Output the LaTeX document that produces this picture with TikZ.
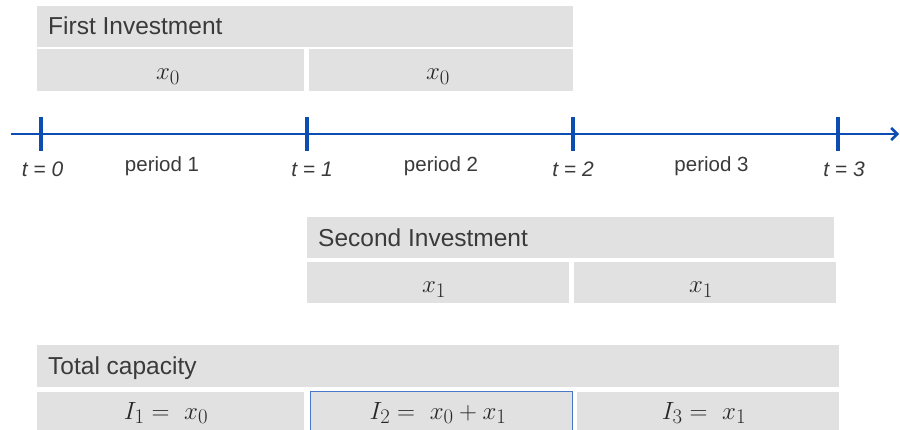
\documentclass[tikz,border=0pt]{standalone}
\usepackage{fontspec}
\setmainfont{Liberation Sans}
\usetikzlibrary{arrows.meta}
\definecolor{cellgray}{HTML}{E1E1E1}
\definecolor{txtgray}{HTML}{3A3A3A}
\definecolor{mathgray}{HTML}{262626}
\definecolor{axisblue}{HTML}{0B4DB0}
\definecolor{edgeblue}{HTML}{4A78C8}
\tikzset{
  cell/.style={fill=cellgray, draw=none, inner sep=0pt, outer sep=0pt, text=mathgray,
     font=\fontsize{28}{30}\selectfont},
  mtext/.style={anchor=base, inner sep=0pt, text=mathgray, font=\fontsize{28}{30}\selectfont},
  hdr/.style={anchor=base west, inner sep=0pt, text=txtgray, font=\fontsize{24.5}{28}\selectfont},
  tlab/.style={anchor=base, inner sep=0pt, text=txtgray, font=\fontsize{21}{24}\selectfont\itshape},
  plab/.style={anchor=base, inner sep=0pt, text=txtgray, font=\fontsize{20.5}{24}\selectfont},
  tickmark/.style={draw=axisblue, line width=3.6pt},
  axisline/.style={draw=axisblue, line width=2.7pt, -{Straight Barb[length=6pt,width=12pt,line width=2.5pt]}}
}
\begin{document}
\begin{tikzpicture}[x=1pt,y=-1pt]
\useasboundingbox (0,0) rectangle (900,430);
\clip (0,0) rectangle (900,430);
% first investment
\path[fill=cellgray] (37,6) rectangle (573,46.7);
\node[hdr] (h1) at (48,35) {First Investment};
\node[cell, minimum width=267.3pt, minimum height=41.4pt] (a1) at (170.65,70) {};
\node[cell, minimum width=264pt, minimum height=41.4pt] (a2) at (441,70) {};
\node[mtext] (a1t) at (168,80) {$x_0$};
\node[mtext] (a2t) at (438,80) {$x_0$};
% axis
\coordinate (axL) at (10.7,134);
\coordinate (axR) at (899,134);
\draw[axisline] (axL) -- (axR);
\foreach \n/\x in {0/40.7,1/306.7,2/572.7,3/837.7}{
  \coordinate (tt\n) at (\x,117);
  \coordinate (tb\n) at (\x,150.7);
  \draw[tickmark] (tt\n) -- (tb\n);
}
\node[tlab] (l0) at (42.5,177) {t = 0};
\node[tlab] (l1) at (312,177) {t = 1};
\node[tlab] (l2) at (573,177) {t = 2};
\node[tlab] (l3) at (844,177) {t = 3};
\node[plab] (p1) at (162,172) {period 1};
\node[plab] (p2) at (441,172) {period 2};
\node[plab] (p3) at (711.5,172) {period 3};
% second investment
\path[fill=cellgray] (307.3,217.3) rectangle (834,257.7);
\node[hdr] (h2) at (318,246.7) {Second Investment};
\node[cell, minimum width=261.4pt, minimum height=41.3pt] (b1) at (438,282.65) {};
\node[cell, minimum width=262pt, minimum height=41.3pt] (b2) at (705,282.65) {};
\node[mtext] (b1t) at (434,293) {$x_1$};
\node[mtext] (b2t) at (701,293) {$x_1$};
% total capacity
\path[fill=cellgray] (37,345) rectangle (838.7,386.7);
\node[hdr] (h3) at (48,375) {Total capacity};
\node[cell, minimum width=267pt, minimum height=42pt] (c1) at (170.5,413) {};
\node[cell, draw=edgeblue, line width=0.8pt, minimum width=262pt, minimum height=42pt] (c2) at (441,412) {};
\node[cell, minimum width=262pt, minimum height=42pt] (c3) at (707.7,413) {};
\node[mtext] (c1t) at (166,419) {$I_1 =\ x_0$};
\node[mtext] (c2t) at (438,419) {$I_2 =\ x_0 + x_1$};
\node[mtext] (c3t) at (704,419) {$I_3 =\ x_1$};
\end{tikzpicture}
\end{document}
